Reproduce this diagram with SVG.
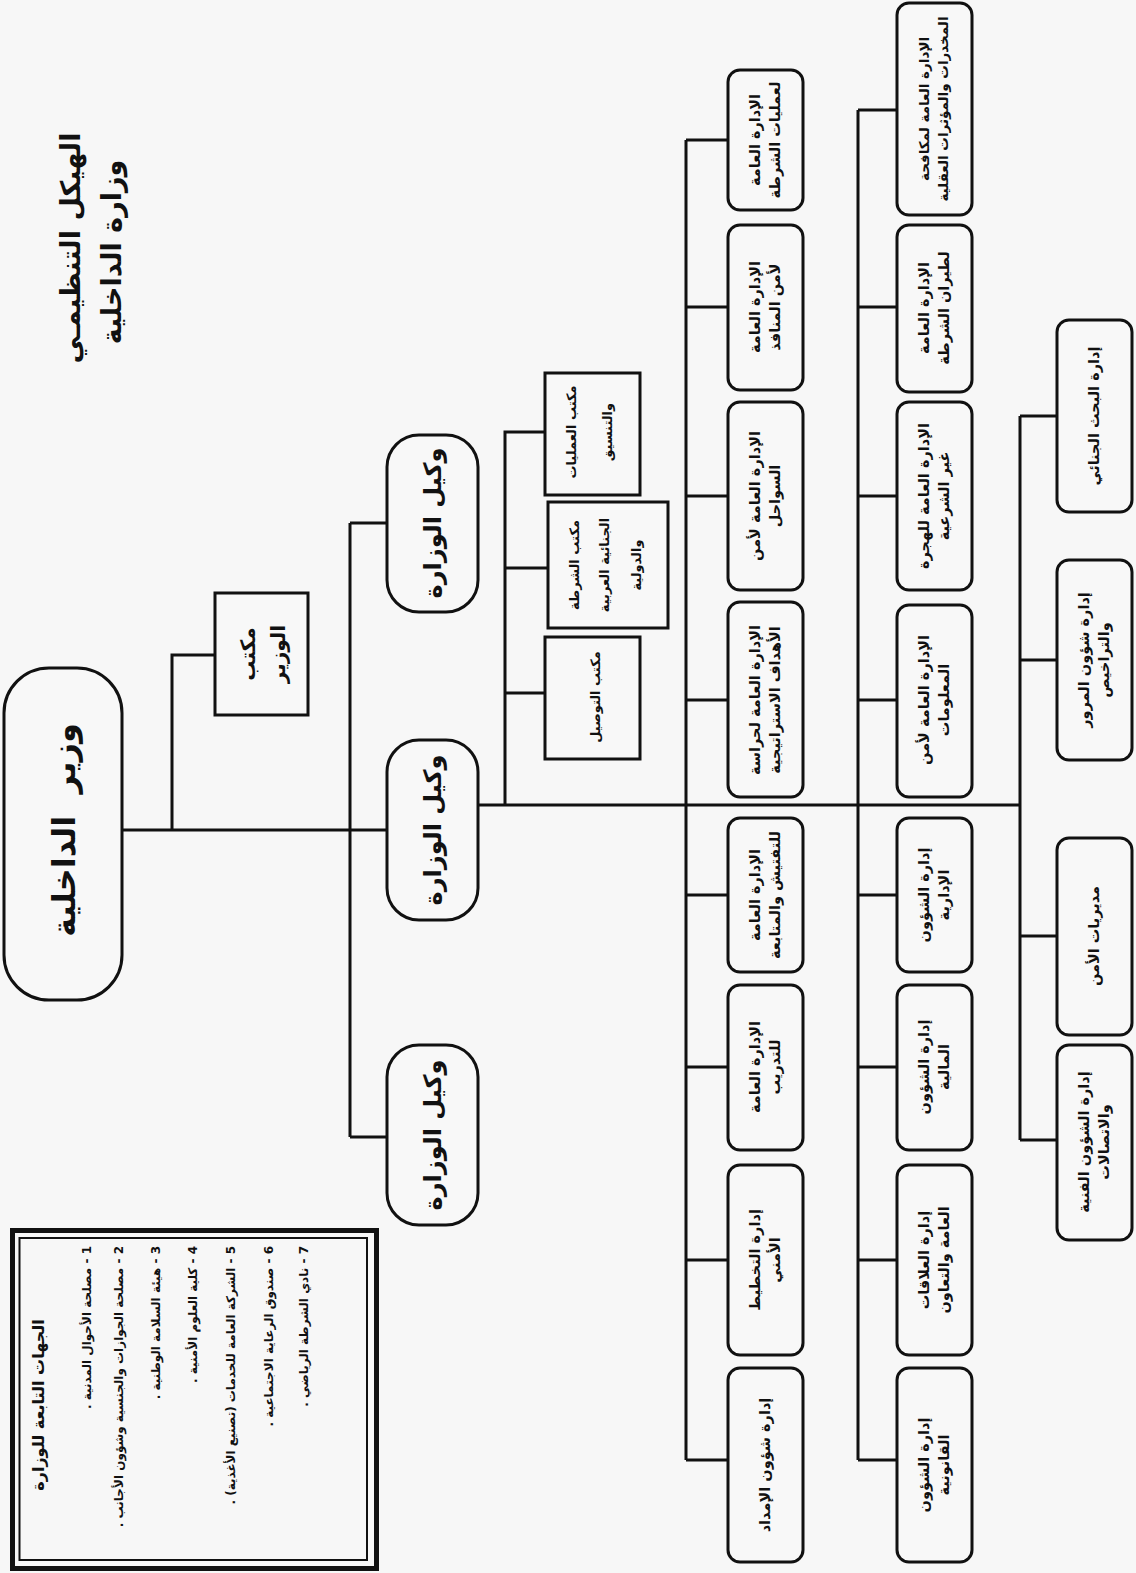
<svg xmlns="http://www.w3.org/2000/svg" width="1136" height="1573" viewBox="0 0 1136 1573">
<style>
.b{fill:#f8f8f8;stroke:#111;stroke-width:3}
.c{fill:none;stroke:#111;stroke-width:3}
text{font-family:"DejaVu Sans","Noto Sans",sans-serif;font-weight:bold;fill:#111;text-anchor:middle}
.d{font-size:14.5px}
.d2{font-size:13.5px}
.s{font-size:13px}
.lg{font-size:12px;text-anchor:start;direction:rtl}
</style>
<rect width="1136" height="1573" fill="#f7f7f7"/>
<g id="title">
<g transform="translate(80,248) rotate(-90)"><text style="font-size:27px">الهيكل التنظيمـي</text></g>
<g transform="translate(121,252) rotate(-90)"><text style="font-size:27px">وزارة الداخلية</text></g>
</g>
<g id="connectors">
<path class="c" d="M122,830H387M172,830V655H215M350,523V1137M350,523H387M350,1137H387"/>
<path class="c" d="M478,805H1020M505,805V432H545M505,568H548M505,693H545"/>
<path class="c" d="M686,140V1460M686,140H728M686,307H728M686,496H728M686,700H728M686,895H728M686,1067H728M686,1260H728M686,1460H728"/>
<path class="c" d="M858,110V1460M858,110H897M858,307H897M858,496H897M858,700H897M858,895H897M858,1067H897M858,1260H897M858,1460H897"/>
<path class="c" d="M1020,416V1140M1020,416H1057M1020,660H1057M1020,936H1057M1020,1140H1057"/>
</g>
<g id="minister"><rect class="b" x="4" y="668" width="118" height="332" rx="45"/>
<g transform="translate(75,830) rotate(-90)"><text style="font-size:32px" xml:space="preserve">وزير  الداخلية</text></g></g>
<g id="office-minister"><rect class="b" x="215" y="593" width="93" height="122"/>
<g transform="translate(261,654) rotate(-90)"><text style="font-size:20px" y="-6">مكتب</text><text style="font-size:20px" y="24">الوزير</text></g></g>
<g id="deputy1"><rect class="b" x="387" y="435" width="91" height="177" rx="32"/>
<g transform="translate(441,523) rotate(-90)"><text style="font-size:24px">وكيل الوزارة</text></g></g>
<g id="deputy2"><rect class="b" x="387" y="740" width="91" height="180" rx="32"/>
<g transform="translate(441,830) rotate(-90)"><text style="font-size:24px">وكيل الوزارة</text></g></g>
<g id="deputy3"><rect class="b" x="387" y="1045" width="91" height="180" rx="32"/>
<g transform="translate(441,1135) rotate(-90)"><text style="font-size:24px">وكيل الوزارة</text></g></g>
<g id="office-ops"><rect class="b" x="545" y="373" width="95" height="122"/>
<g transform="translate(592,432) rotate(-90)"><text class="s" y="-16">مكتب العمليات</text><text class="s" y="20">والتنسيق</text></g></g>
<g id="office-interpol"><rect class="b" x="548" y="502" width="120" height="126"/>
<g transform="translate(608,565) rotate(-90)"><text class="s" y="-29">مكتب الشرطة</text><text class="s" y="1">الجنائية العربية</text><text class="s" y="33">والدولية</text></g></g>
<g id="office-liaison"><rect class="b" x="545" y="637" width="95" height="122"/>
<g transform="translate(592,697) rotate(-90)"><text class="s" y="8">مكتب التوصيل</text></g></g>

<g id="c1n1"><rect class="b" x="728" y="70" width="75" height="140" rx="12"/><g transform="translate(765.5,140) rotate(-90)"><text class="d" y="-6">الإدارة العامة</text><text class="d" y="14">لعمليات الشرطة</text></g></g>
<g id="c1n2"><rect class="b" x="728" y="225" width="75" height="165" rx="12"/><g transform="translate(765.5,307) rotate(-90)"><text class="d" y="-6">الإدارة العامة</text><text class="d" y="14">لأمن المنافذ</text></g></g>
<g id="c1n3"><rect class="b" x="728" y="402" width="75" height="188" rx="12"/><g transform="translate(765.5,496) rotate(-90)"><text class="d" y="-6">الإدارة العامة لأمن</text><text class="d" y="14">السواحل</text></g></g>
<g id="c1n4"><rect class="b" x="728" y="602" width="75" height="195" rx="12"/><g transform="translate(765.5,700) rotate(-90)"><text class="d" y="-6">الإدارة العامة لحراسة</text><text class="d" y="14">الأهداف الاستراتيجية</text></g></g>
<g id="c1n5"><rect class="b" x="728" y="818" width="75" height="154" rx="12"/><g transform="translate(765.5,895) rotate(-90)"><text class="d" y="-6">الإدارة العامة</text><text class="d" y="14">للتفتيش والمتابعة</text></g></g>
<g id="c1n6"><rect class="b" x="728" y="985" width="75" height="165" rx="12"/><g transform="translate(765.5,1067) rotate(-90)"><text class="d" y="-6">الإدارة العامة</text><text class="d" y="14">للتدريب</text></g></g>
<g id="c1n7"><rect class="b" x="728" y="1165" width="75" height="190" rx="12"/><g transform="translate(765.5,1260) rotate(-90)"><text class="d" y="-6">إدارة التخطيط</text><text class="d" y="14">الأمني</text></g></g>
<g id="c1n8"><rect class="b" x="728" y="1368" width="75" height="194" rx="12"/><g transform="translate(765.5,1465) rotate(-90)"><text class="d" y="4">إدارة شؤون الإمداد</text></g></g>

<g id="c2n1"><rect class="b" x="897" y="3" width="75" height="212" rx="12"/><g transform="translate(934.5,109) rotate(-90)"><text class="d2" y="-6">الإدارة العامة لمكافحة</text><text class="d2" y="13">المخدرات والمؤثرات العقلية</text></g></g>
<g id="c2n2"><rect class="b" x="897" y="225" width="75" height="167" rx="12"/><g transform="translate(934.5,308) rotate(-90)"><text class="d" y="-6">الإدارة العامة</text><text class="d" y="14">لطيران الشرطة</text></g></g>
<g id="c2n3"><rect class="b" x="897" y="402" width="75" height="188" rx="12"/><g transform="translate(934.5,496) rotate(-90)"><text class="d" y="-6">الإدارة العامة للهجرة</text><text class="d" y="14">غير الشرعية</text></g></g>
<g id="c2n4"><rect class="b" x="897" y="605" width="75" height="192" rx="12"/><g transform="translate(934.5,700) rotate(-90)"><text class="d" y="-6">الإدارة العامة لأمن</text><text class="d" y="14">المعلومات</text></g></g>
<g id="c2n5"><rect class="b" x="897" y="818" width="75" height="154" rx="12"/><g transform="translate(934.5,895) rotate(-90)"><text class="d" y="-6">إدارة الشؤون</text><text class="d" y="14">الإدارية</text></g></g>
<g id="c2n6"><rect class="b" x="897" y="985" width="75" height="165" rx="12"/><g transform="translate(934.5,1067) rotate(-90)"><text class="d" y="-6">إدارة الشؤون</text><text class="d" y="14">المالية</text></g></g>
<g id="c2n7"><rect class="b" x="897" y="1165" width="75" height="190" rx="12"/><g transform="translate(934.5,1260) rotate(-90)"><text class="d" y="-6">إدارة العلاقات</text><text class="d" y="14">العامة والتعاون</text></g></g>
<g id="c2n8"><rect class="b" x="897" y="1368" width="75" height="194" rx="12"/><g transform="translate(934.5,1465) rotate(-90)"><text class="d" y="-6">إدارة الشؤون</text><text class="d" y="14">القانونية</text></g></g>

<g id="c3n1"><rect class="b" x="1057" y="320" width="75" height="192" rx="12"/><g transform="translate(1094.5,416) rotate(-90)"><text class="d" y="4">إدارة البحث الجنائي</text></g></g>
<g id="c3n2"><rect class="b" x="1057" y="560" width="75" height="200" rx="12"/><g transform="translate(1094.5,660) rotate(-90)"><text class="d" y="-6">إدارة شؤون المرور</text><text class="d" y="14">والتراخيص</text></g></g>
<g id="c3n3"><rect class="b" x="1057" y="838" width="75" height="197" rx="12"/><g transform="translate(1094.5,936) rotate(-90)"><text class="d" y="4">مديريات الأمن</text></g></g>
<g id="c3n4"><rect class="b" x="1057" y="1045" width="75" height="195" rx="12"/><g transform="translate(1094.5,1142) rotate(-90)"><text class="d" y="-6">إدارة الشؤون الفنية</text><text class="d" y="14">والاتصالات</text></g></g>

<g id="legend">
<rect x="12.5" y="1230.5" width="364" height="338" fill="none" stroke="#111" stroke-width="5"/>
<rect x="19.5" y="1238" width="347.5" height="322" fill="none" stroke="#111" stroke-width="2"/>
<g transform="translate(44,1405) rotate(-90)"><text style="font-size:16px">الجهات التابعة للوزارة</text></g>
<g transform="translate(91,1246) rotate(-90)"><text class="lg">1 - مصلحة الأحوال المدنية .</text></g>
<g transform="translate(123,1246) rotate(-90)"><text class="lg">2 - مصلحة الجوازات والجنسية وشؤون الأجانب .</text></g>
<g transform="translate(160,1246) rotate(-90)"><text class="lg">3 - هيئة السلامة الوطنية .</text></g>
<g transform="translate(197,1246) rotate(-90)"><text class="lg">4 - كلية العلوم الأمنية .</text></g>
<g transform="translate(235,1246) rotate(-90)"><text class="lg">5 - الشركة العامة للخدمات (تصنيع الأغذية) .</text></g>
<g transform="translate(273,1246) rotate(-90)"><text class="lg">6 - صندوق الرعاية الاجتماعية .</text></g>
<g transform="translate(308,1246) rotate(-90)"><text class="lg">7 - نادي الشرطة الرياضي .</text></g>
</g>
</svg>
